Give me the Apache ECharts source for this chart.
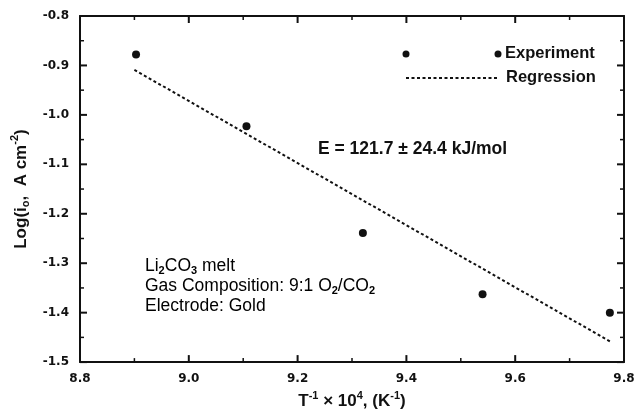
<!DOCTYPE html>
<html>
<head>
<meta charset="utf-8">
<script src="https://cdn.jsdelivr.net/npm/echarts@6/dist/echarts.min.js"></script>
<style>
  html, body { margin: 0; padding: 0; background: #fff; }
  #chart { width: 638px; height: 415px; }
</style>
</head>
<body>
<div id="chart"></div>
<script>
// Inverse temperature (T^-1 x 10^4, K^-1) of each measurement
const experimentX = [8.903, 9.106, 9.320, 9.540, 9.774];
// Log of exchange current density (A cm^-2)
const experimentY = [-0.878, -1.023, -1.239, -1.363, -1.400];
// Arrhenius regression line endpoints
const regressionX = [8.90, 9.774];
const regressionY = [-0.909, -1.458];
// Axis ranges and tick spacing
const xTicks = { min: 8.8, max: 9.8, interval: 0.2 };
const yTicks = { min: -1.5, max: -0.8, interval: 0.1 };

const FONT = '"Liberation Sans", Arial, sans-serif';
const TICK_FONT = '"DejaVu Sans", "Liberation Sans", sans-serif';
const INK = '#111';

const chart = echarts.init(document.getElementById('chart'), null, { renderer: 'canvas' });

// Plain frame axis; the inward tick marks are added as graphics after layout
function frameAxis(extra) {
  return Object.assign({
    type: 'value',
    axisLine: { show: true, onZero: false, lineStyle: { color: INK, width: 2 } },
    axisTick: { show: false },
    minorTick: { show: false },
    splitLine: { show: false }
  }, extra);
}

const tickLabel = {
  show: true, margin: 11, color: INK, fontFamily: TICK_FONT, fontWeight: 'bold', fontSize: 12,
  formatter: v => v.toFixed(1)
};

const baseGraphics = [
  // legend samples
  { type: 'circle', shape: { cx: 406, cy: 54, r: 3.5 }, style: { fill: INK } },
  { type: 'circle', shape: { cx: 498, cy: 54, r: 3.5 }, style: { fill: INK } },
  { type: 'text', left: 505, top: 45, style: { text: 'Experiment', fill: INK, font: 'bold 16.5px ' + FONT } },
  { type: 'line', shape: { x1: 406, y1: 78, x2: 497, y2: 78 }, style: { stroke: INK, lineWidth: 2, lineDash: [3, 2.5] } },
  { type: 'text', left: 506, top: 69, style: { text: 'Regression', fill: INK, font: 'bold 16.5px ' + FONT } },
  // activation energy annotation
  { type: 'text', left: 318, top: 140, style: { text: 'E = 121.7 ± 24.4 kJ/mol', fill: INK, font: 'bold 17.5px ' + FONT } },
  // experimental conditions
  {
    type: 'text', left: 145, top: 257,
    style: {
      text: '{t|Li}{sub|2}{t|CO}{sub|3}{t| melt}\n{t|Gas Composition: 9:1 O}{sub|2}{t|/CO}{sub|2}\n{t|Electrode: Gold}',
      rich: {
        t: { fontFamily: FONT, fontSize: 17.5, color: INK, lineHeight: 20 },
        sub: { fontFamily: FONT, fontSize: 11, fontWeight: 'bold', color: INK, lineHeight: 10, verticalAlign: 'bottom' }
      }
    }
  }
];

const option = {
  animation: false,
  backgroundColor: '#fff',
  grid: { left: 80, right: 14, top: 16, bottom: 43 },
  xAxis: [
    frameAxis({
      position: 'bottom',
      min: xTicks.min, max: xTicks.max, interval: xTicks.interval,
      axisLabel: tickLabel,
      name: '{t|T}{sup|-1}{t| × 10}{sup|4}{t|, (K}{sup|-1}{t|)}',
      nameLocation: 'middle', nameGap: 26,
      nameTextStyle: {
        rich: {
          t: { fontFamily: FONT, fontSize: 17, fontWeight: 'bold', color: INK, lineHeight: 20, verticalAlign: 'bottom' },
          sup: { fontFamily: FONT, fontSize: 11, fontWeight: 'bold', color: INK, lineHeight: 12, verticalAlign: 'top' }
        }
      }
    }),
    frameAxis({
      position: 'top',
      min: xTicks.min, max: xTicks.max, interval: xTicks.interval,
      axisLabel: { show: false }
    })
  ],
  yAxis: [
    frameAxis({
      position: 'left',
      min: yTicks.min, max: yTicks.max, interval: yTicks.interval,
      axisLabel: tickLabel,
      name: '{t|Log(i}{sub|o}{t|,  A cm}{sup|-2}{t|)}',
      nameLocation: 'middle', nameGap: 46, nameRotate: 90,
      nameTextStyle: {
        rich: {
          t: { fontFamily: FONT, fontSize: 17, fontWeight: 'bold', color: INK, lineHeight: 22 },
          sub: { fontFamily: FONT, fontSize: 11, fontWeight: 'bold', color: INK, lineHeight: 11, verticalAlign: 'bottom' },
          sup: { fontFamily: FONT, fontSize: 11, fontWeight: 'bold', color: INK, lineHeight: 11, verticalAlign: 'top' }
        }
      }
    }),
    frameAxis({
      position: 'right',
      min: yTicks.min, max: yTicks.max, interval: yTicks.interval,
      axisLabel: { show: false }
    })
  ],
  series: [
    {
      name: 'Regression', type: 'line',
      data: regressionX.map((x, i) => [x, regressionY[i]]),
      symbol: 'none',
      lineStyle: { color: INK, width: 2, type: [3, 2.5] },
      z: 2
    },
    {
      name: 'Experiment', type: 'scatter',
      data: experimentX.map((x, i) => [x, experimentY[i]]),
      symbol: 'circle', symbolSize: 8,
      itemStyle: { color: INK, opacity: 1 },
      z: 3
    }
  ],
  graphic: baseGraphics
};

chart.setOption(option);

// Inward ticks on all four sides, placed through the axis scales:
// long at labelled values, short half-way between
const finder = { xAxisIndex: 0, yAxisIndex: 0 };
const tickMarks = [];
function addTick(p, dx, dy, major) {
  tickMarks.push({
    type: 'line', silent: true, z: 50,
    shape: { x1: p[0], y1: p[1], x2: p[0] + dx, y2: p[1] + dy },
    style: { stroke: INK, lineWidth: major ? 2 : 1.5 }
  });
}
const xStep = xTicks.interval / 2;
const nx = Math.round((xTicks.max - xTicks.min) / xStep);
for (let k = 0; k <= nx; k++) {
  const x = xTicks.min + k * xStep;
  const major = k % 2 === 0;
  const len = major ? 7 : 4;
  addTick(chart.convertToPixel(finder, [x, yTicks.min]), 0, -len, major);
  addTick(chart.convertToPixel(finder, [x, yTicks.max]), 0, len, major);
}
const yStep = yTicks.interval / 2;
const ny = Math.round((yTicks.max - yTicks.min) / yStep);
for (let k = 0; k <= ny; k++) {
  const y = yTicks.min + k * yStep;
  const major = k % 2 === 0;
  const len = major ? 7 : 4;
  addTick(chart.convertToPixel(finder, [xTicks.min, y]), len, 0, major);
  addTick(chart.convertToPixel(finder, [xTicks.max, y]), -len, 0, major);
}
chart.setOption({ graphic: baseGraphics.concat(tickMarks) });
</script>
</body>
</html>
